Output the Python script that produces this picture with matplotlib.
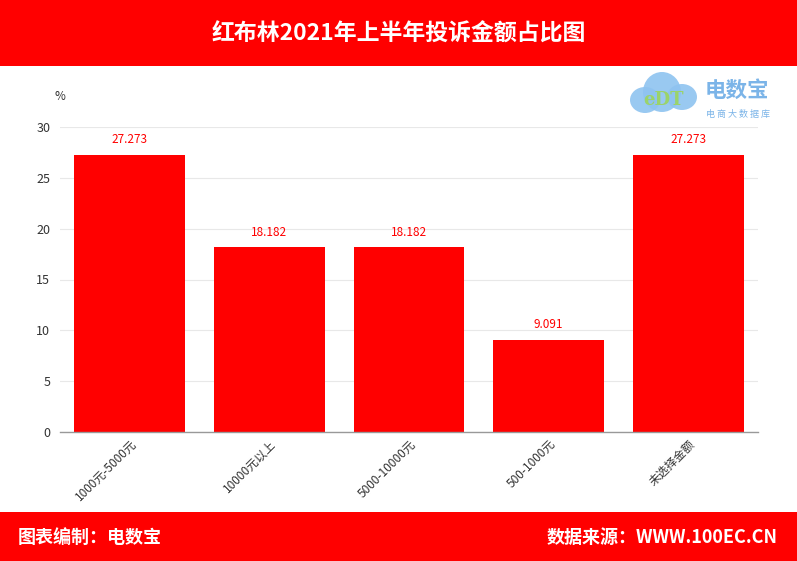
import matplotlib
matplotlib.use("Agg")
import matplotlib.pyplot as plt
from matplotlib.patches import Rectangle, Ellipse

plt.rcParams['font.family'] = ['Noto Sans CJK SC', 'DejaVu Sans']

categories = ["1000元-5000元", "10000元以上", "5000-10000元", "500-1000元", "未选择金额"]
values = [27.273, 18.182, 18.182, 9.091, 27.273]
value_labels = ["27.273", "18.182", "18.182", "9.091", "27.273"]
yticks = [0, 5, 10, 15, 20, 25, 30]

W, H = 797, 561
fig = plt.figure(figsize=(W / 100, H / 100), dpi=100)
fig.patch.set_facecolor('white')

RED = '#ff0000'
# top banner
fig.add_artist(Rectangle((0, 1 - 66 / H), 1, 66 / H, transform=fig.transFigure,
                         facecolor=RED, edgecolor='none', zorder=0))
fig.text(0.5, 1 - 34 / H, "红布林2021年上半年投诉金额占比图", color='white',
         fontsize=16.5, fontweight='bold', ha='center', va='center')
# bottom banner
fig.add_artist(Rectangle((0, 0), 1, 49 / H, transform=fig.transFigure,
                         facecolor=RED, edgecolor='none', zorder=0))
fig.text(18 / W, 24 / H, "图表编制：电数宝", color='white', fontsize=13,
         fontweight='bold', ha='left', va='center')
fig.text(778 / W, 24 / H, "数据来源：WWW.100EC.CN", color='white', fontsize=13,
         fontweight='bold', ha='right', va='center')

# logo
fig.add_artist(Ellipse((662 / W, 1 - 92 / H), 38 / W, 40 / H, transform=fig.transFigure,
                       facecolor='#8ec3f0', edgecolor='none', alpha=0.9))
fig.add_artist(Ellipse((645 / W, 1 - 100 / H), 30 / W, 26 / H, transform=fig.transFigure,
                       facecolor='#8ec3f0', edgecolor='none', alpha=0.9))
fig.add_artist(Ellipse((682 / W, 1 - 97 / H), 30 / W, 26 / H, transform=fig.transFigure,
                       facecolor='#8ec3f0', edgecolor='none', alpha=0.9))
fig.text(664 / W, 1 - 100 / H, "eDT", color='#9bd36a', fontsize=13, fontweight='bold',
         ha='center', va='center', family='DejaVu Serif')
fig.text(705 / W, 1 - 90 / H, "电数宝", color='#7bb4e8', fontsize=15.5, fontweight='bold',
         ha='left', va='center')
fig.text(706 / W, 1 - 114 / H, "电 商 大 数 据 库", color='#7bb4e8', fontsize=6.5,
         ha='left', va='center')

# axes
left, right = 60 / W, 758 / W
bottom, top = (H - 432) / H, (H - 127) / H
ax = fig.add_axes([left, bottom, right - left, top - bottom])
x = range(len(categories))
ax.bar(x, values, width=0.795, color=RED, zorder=2)
ax.set_xlim(-0.5, len(categories) - 0.5)
ax.set_ylim(0, 30)
ax.set_yticks(yticks)
ax.set_yticklabels([str(t) for t in yticks], color='#333333', fontsize=9)
ax.yaxis.grid(True, color='#e8e8e8', linewidth=0.8, zorder=0)
ax.set_axisbelow(True)
ax.tick_params(axis='y', length=0, pad=7)
ax.tick_params(axis='x', length=0, pad=4)
for s in ['top', 'right', 'left']:
    ax.spines[s].set_visible(False)
ax.spines['bottom'].set_color('#999999')
ax.spines['bottom'].set_linewidth(1)
ax.set_xticks(list(x))
ax.set_xticklabels(categories, rotation=45, ha='right', rotation_mode='anchor',
                   color='#333333', fontsize=8.5)
for xi, v, lab in zip(x, values, value_labels):
    ax.annotate(lab, (xi, v), xytext=(0, 6), textcoords='offset points',
                ha='center', va='bottom', color=RED, fontsize=8.5)
fig.text(60 / W, 1 - 96 / H, "%", color='#333333', fontsize=8.5, ha='center', va='center')

fig.savefig("out.png", dpi=100)
